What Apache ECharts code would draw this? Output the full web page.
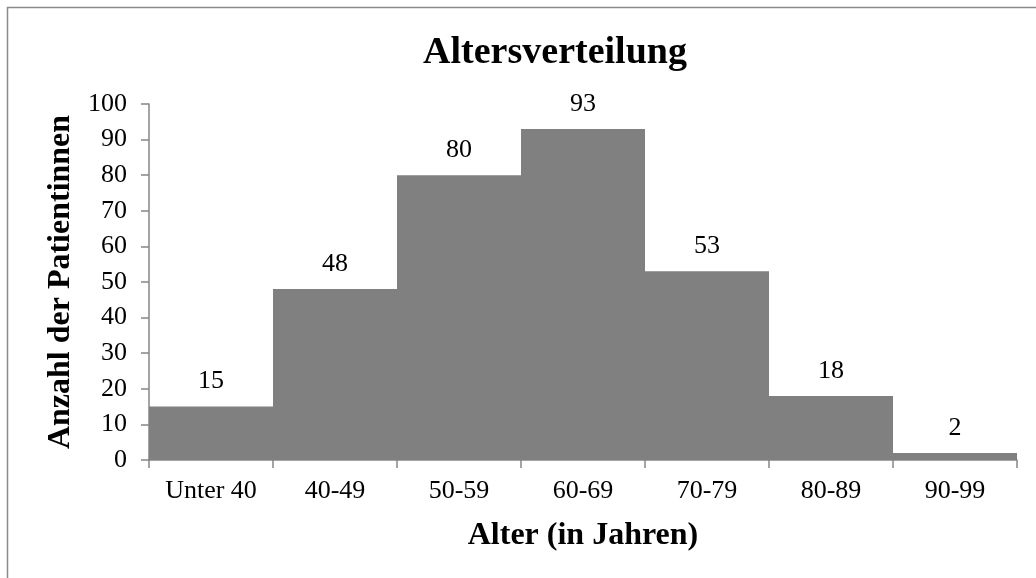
<!DOCTYPE html>
<html>
<head>
<meta charset="utf-8">
<title>Altersverteilung</title>
<script src="https://cdn.jsdelivr.net/npm/echarts@6/dist/echarts.min.js"></script>
<style>
  html, body { margin: 0; padding: 0; background: #ffffff; }
  #chart { width: 1036px; height: 578px; }
</style>
</head>
<body>
<div id="chart"></div>
<script>
// Age groups and number of patients per group
const ageGroups = ['Unter 40', '40-49', '50-59', '60-69', '70-79', '80-89', '90-99'];
const patientCounts = [15, 48, 80, 93, 53, 18, 2];
// Value axis range
const yMin = 0;
const yMax = 100;
const yStep = 10;

const FONT = "'Liberation Serif', 'Times New Roman', serif";
const AXIS_GREY = '#868686';

const chart = echarts.init(document.getElementById('chart'), null, { renderer: 'canvas' });

chart.setOption({
  backgroundColor: '#ffffff',
  animation: false,
  graphic: [{
    type: 'rect',
    silent: true,
    shape: { x: 7.5, y: 7.5, width: 1100, height: 620 },
    style: { fill: 'none', stroke: '#8a8a8a', lineWidth: 1.5 }
  }],
  title: {
    text: 'Altersverteilung',
    left: 555,
    top: 34,
    textAlign: 'center',
    padding: 0,
    textStyle: {
      fontFamily: FONT,
      fontWeight: 'bold',
      fontSize: 38,
      color: '#000000',
      lineHeight: 38
    }
  },
  grid: {
    left: 149,
    right: 19,
    top: 104,
    bottom: 118,
    containLabel: false
  },
  xAxis: {
    type: 'category',
    data: ageGroups,
    name: 'Alter (in Jahren)',
    nameLocation: 'middle',
    nameGap: 60,
    nameTextStyle: {
      fontFamily: FONT,
      fontWeight: 'bold',
      fontSize: 32,
      color: '#000000'
    },
    axisLine: { show: true, lineStyle: { color: AXIS_GREY, width: 1.5 } },
    axisTick: { show: true, length: 8, interval: 0, lineStyle: { color: AXIS_GREY, width: 1.5 } },
    axisLabel: {
      interval: 0,
      margin: 18,
      fontFamily: FONT,
      fontSize: 26,
      color: '#000000'
    },
    splitLine: { show: false }
  },
  yAxis: {
    type: 'value',
    min: yMin,
    max: yMax,
    interval: yStep,
    name: 'Anzahl der Patientinnen',
    nameLocation: 'middle',
    nameGap: 68,
    nameRotate: 90,
    nameTextStyle: {
      fontFamily: FONT,
      fontWeight: 'bold',
      fontSize: 32,
      color: '#000000'
    },
    axisLine: { show: true, lineStyle: { color: AXIS_GREY, width: 1.5 } },
    axisTick: { show: true, length: 8, lineStyle: { color: AXIS_GREY, width: 1.5 } },
    axisLabel: {
      margin: 22,
      fontFamily: FONT,
      fontSize: 26,
      color: '#000000'
    },
    splitLine: { show: false }
  },
  series: [{
    type: 'bar',
    data: patientCounts,
    barCategoryGap: '0%',
    itemStyle: { color: '#808080' },
    label: {
      show: true,
      position: 'top',
      distance: 12,
      fontFamily: FONT,
      fontSize: 26,
      color: '#000000'
    }
  }]
});
</script>
</body>
</html>
